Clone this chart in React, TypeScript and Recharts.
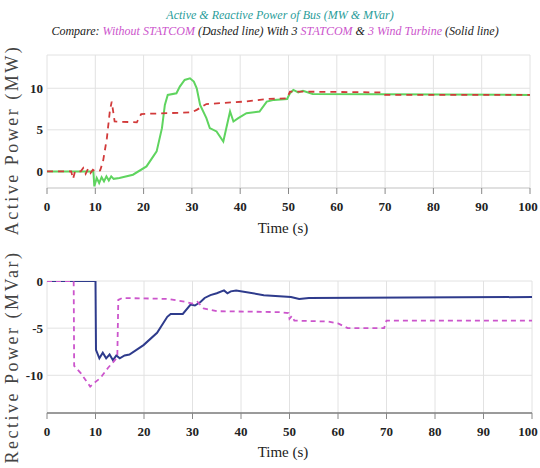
import React from "react";
import { LineChart, Line, XAxis, YAxis, CartesianGrid } from "recharts";

// Active power, without STATCOM (dashed)
const pNoStatT = [0, 5, 5.4, 5.8, 7, 7.5, 8, 8.5, 9, 9.5, 10, 11, 11.6, 12.4, 13, 13.4, 14, 18.6, 19.5, 30, 31, 33, 41, 45.5, 49.7, 50.3, 52, 69.5, 70, 100];
const pNoStatV = [0, 0, -0.9, 0, 0, 0.4, -0.3, 0.3, -0.2, 0.2, 0, 0.1, 1.2, 4, 7.2, 8.4, 6, 5.9, 6.9, 7.1, 7.4, 8.1, 8.4, 8.7, 8.8, 9.6, 9.6, 9.5, 9.2, 9.2];

// Active power, with 3 STATCOM & 3 wind turbine (solid)
const pStatT = [0, 9.6, 9.8, 10.3, 10.8, 11.3, 11.8, 12.3, 12.8, 13.3, 13.8, 15, 17.8, 20.6, 22.7, 23.8, 24.4, 25, 26.8, 27.5, 28.5, 29.6, 30.4, 31, 31.7, 33, 33.7, 35.1, 36.5, 37.9, 38.6, 39.6, 41.3, 44, 45.5, 47, 49.7, 50.3, 51, 52, 53, 55, 100];
const pStatV = [0, 0, -1.8, -0.8, -1.4, -0.7, -1.2, -0.6, -1.1, -0.6, -0.9, -0.8, -0.4, 0.6, 2.4, 5.2, 8, 9.2, 9.4, 10.2, 11, 11.2, 10.8, 10, 8, 6.4, 5.2, 4.8, 3.6, 7.2, 6, 6.4, 7, 7.2, 8.4, 8.6, 8.7, 9.4, 9.8, 9.5, 9.7, 9.3, 9.2];

// Reactive power, without STATCOM (dashed)
const qNoStatT = [0, 5.5, 5.6, 7, 8.9, 10, 11, 12.6, 14, 14.5, 14.7, 15.5, 25, 28.5, 30, 31, 32.3, 35, 48, 49.8, 50, 50.5, 51, 58, 60, 62, 69.5, 70, 100];
const qNoStatV = [0, 0, -9, -9.8, -11.2, -10.7, -10.3, -9.2, -8.4, -8, -2, -1.8, -1.9, -2.2, -2.4, -2.2, -2.9, -3.2, -3.3, -3.4, -4, -3.7, -4.2, -4.3, -4.5, -5, -5, -4.2, -4.2];

// Reactive power, with 3 STATCOM & 3 wind turbine (solid)
const qStatT = [0, 10, 10.1, 10.8, 11.5, 12.2, 12.9, 13.6, 14.3, 15, 16, 17, 19.9, 22.7, 24.8, 25.5, 28, 29.6, 30.5, 31.7, 32.5, 33.7, 35, 36.5, 37.2, 37.9, 39, 44.7, 50.3, 52, 54, 100];
const qStatV = [0, 0, -7.3, -8.2, -7.6, -8.2, -7.8, -8.4, -7.9, -8.2, -7.9, -7.8, -6.8, -5.5, -3.8, -3.5, -3.5, -2.5, -2.6, -2.2, -1.8, -1.5, -1.3, -1.0, -1.3, -1.1, -1.0, -1.5, -1.7, -1.9, -1.8, -1.7];

const xTicks = [0, 10, 20, 30, 40, 50, 60, 70, 80, 90, 100];
const pTicks = [0, 5, 10];
const qTicks = [-10, -5, 0];

const zip = (t: number[], v: number[]) => t.map((x, i) => ({ t: x, v: v[i] }));

const serif = "'Liberation Serif', 'Times New Roman', serif";
const magenta = "#cc55cc";

function XTick({ x, y, payload }: any) {
  return (
    <text x={x} y={y} dy="0.71em" textAnchor="middle" fontFamily={serif} fontWeight="bold" fontSize={13} fill="#222">
      {payload.value}
    </text>
  );
}

function YTick({ x, y, payload }: any) {
  return (
    <text x={x} y={y} dy="0.355em" textAnchor="end" fontFamily={serif} fontWeight="bold" fontSize={13} fill="#222">
      {payload.value}
    </text>
  );
}

function Panel({ top, height, marginTop, axisH, marginRight, domain, yTicks, solid, dashed, solidColor, dashedColor, dashArray, frame }: any) {
  return (
    <div style={{ position: "absolute", left: 0, top }}>
      <LineChart width={540} height={height} margin={{ top: marginTop, right: marginRight, bottom: 0, left: 0 }}>
        <CartesianGrid stroke="#e2e2e2" />
        <XAxis
          type="number"
          dataKey="t"
          domain={[0, 100]}
          ticks={xTicks}
          height={axisH}
          tick={<XTick />}
          tickSize={6}
          tickMargin={8}
          tickLine={{ stroke: "#888" }}
          axisLine={{ stroke: frame }}
          allowDataOverflow
        />
        <XAxis xAxisId="top" orientation="top" type="number" domain={[0, 100]} height={0} tick={false} tickLine={false} axisLine={{ stroke: frame }} />
        <YAxis
          type="number"
          domain={domain}
          ticks={yTicks}
          width={47}
          tick={<YTick />}
          tickSize={2}
          tickMargin={2}
          tickLine={false}
          axisLine={false}
          allowDataOverflow
        />
        <YAxis yAxisId="right" orientation="right" width={0} tick={false} tickLine={false} axisLine={{ stroke: "#aaa" }} />
        <Line data={solid} dataKey="v" type="linear" stroke={solidColor} strokeWidth={2} dot={false} isAnimationActive={false} />
        <Line data={dashed} dataKey="v" type="linear" stroke={dashedColor} strokeWidth={1.8} strokeDasharray={dashArray} dot={false} isAnimationActive={false} />
      </LineChart>
    </div>
  );
}

export default function App() {
  const yLabel: React.CSSProperties = {
    position: "absolute",
    left: 12,
    transform: "translate(-50%, -50%) rotate(-90deg)",
    fontFamily: serif,
    fontSize: 18,
    letterSpacing: 2.5,
    color: "#444",
    whiteSpace: "nowrap",
  };
  const timeLabel: React.CSSProperties = {
    position: "absolute",
    left: 283,
    transform: "translate(-50%, -50%)",
    fontFamily: serif,
    fontSize: 15,
    color: "#222",
    whiteSpace: "nowrap",
  };
  return (
    <div style={{ position: "absolute", left: 0, top: 0, width: 540, height: 468, background: "#fff", overflow: "hidden" }}>
      <Panel
        top={0}
        height={240}
        marginTop={55}
        axisH={52}
        marginRight={10}
        domain={[-2, 14]}
        yTicks={pTicks}
        solid={zip(pStatT, pStatV)}
        dashed={zip(pNoStatT, pNoStatV)}
        solidColor="#5fd45f"
        dashedColor="#d23a3a"
        dashArray="6 5"
        frame="#cfcfcf"
      />
      <Panel
        top={240}
        height={228}
        marginTop={41}
        axisH={55}
        marginRight={8}
        domain={[-14, 0]}
        yTicks={qTicks}
        solid={zip(qStatT, qStatV)}
        dashed={zip(qNoStatT, qNoStatV)}
        solidColor="#2e3b8c"
        dashedColor={magenta}
        dashArray="5 4"
        frame="#444"
      />
      <div style={{ position: "absolute", left: 280, top: 15, transform: "translate(-50%, -50%)", fontFamily: serif, fontStyle: "italic", fontSize: 12, color: "#2a9d9a", whiteSpace: "nowrap" }}>
        Active &amp; Reactive Power of Bus (MW &amp; MVar)
      </div>
      <div style={{ position: "absolute", left: 275, top: 31, transform: "translate(-50%, -50%)", fontFamily: serif, fontStyle: "italic", fontSize: 12, color: "#222", whiteSpace: "nowrap" }}>
        Compare: <span style={{ color: magenta }}>Without STATCOM</span> (Dashed line) With 3 <span style={{ color: magenta }}>STATCOM</span> &amp;{" "}
        <span style={{ color: magenta }}>3 Wind Turbine</span> (Solid line)
      </div>
      <div style={{ ...yLabel, top: 140 }}>Active Power (MW)</div>
      <div style={{ ...yLabel, top: 357 }}>Rective Power (MVar)</div>
      <div style={{ ...timeLabel, top: 228 }}>Time (s)</div>
      <div style={{ ...timeLabel, top: 452 }}>Time (s)</div>
    </div>
  );
}
